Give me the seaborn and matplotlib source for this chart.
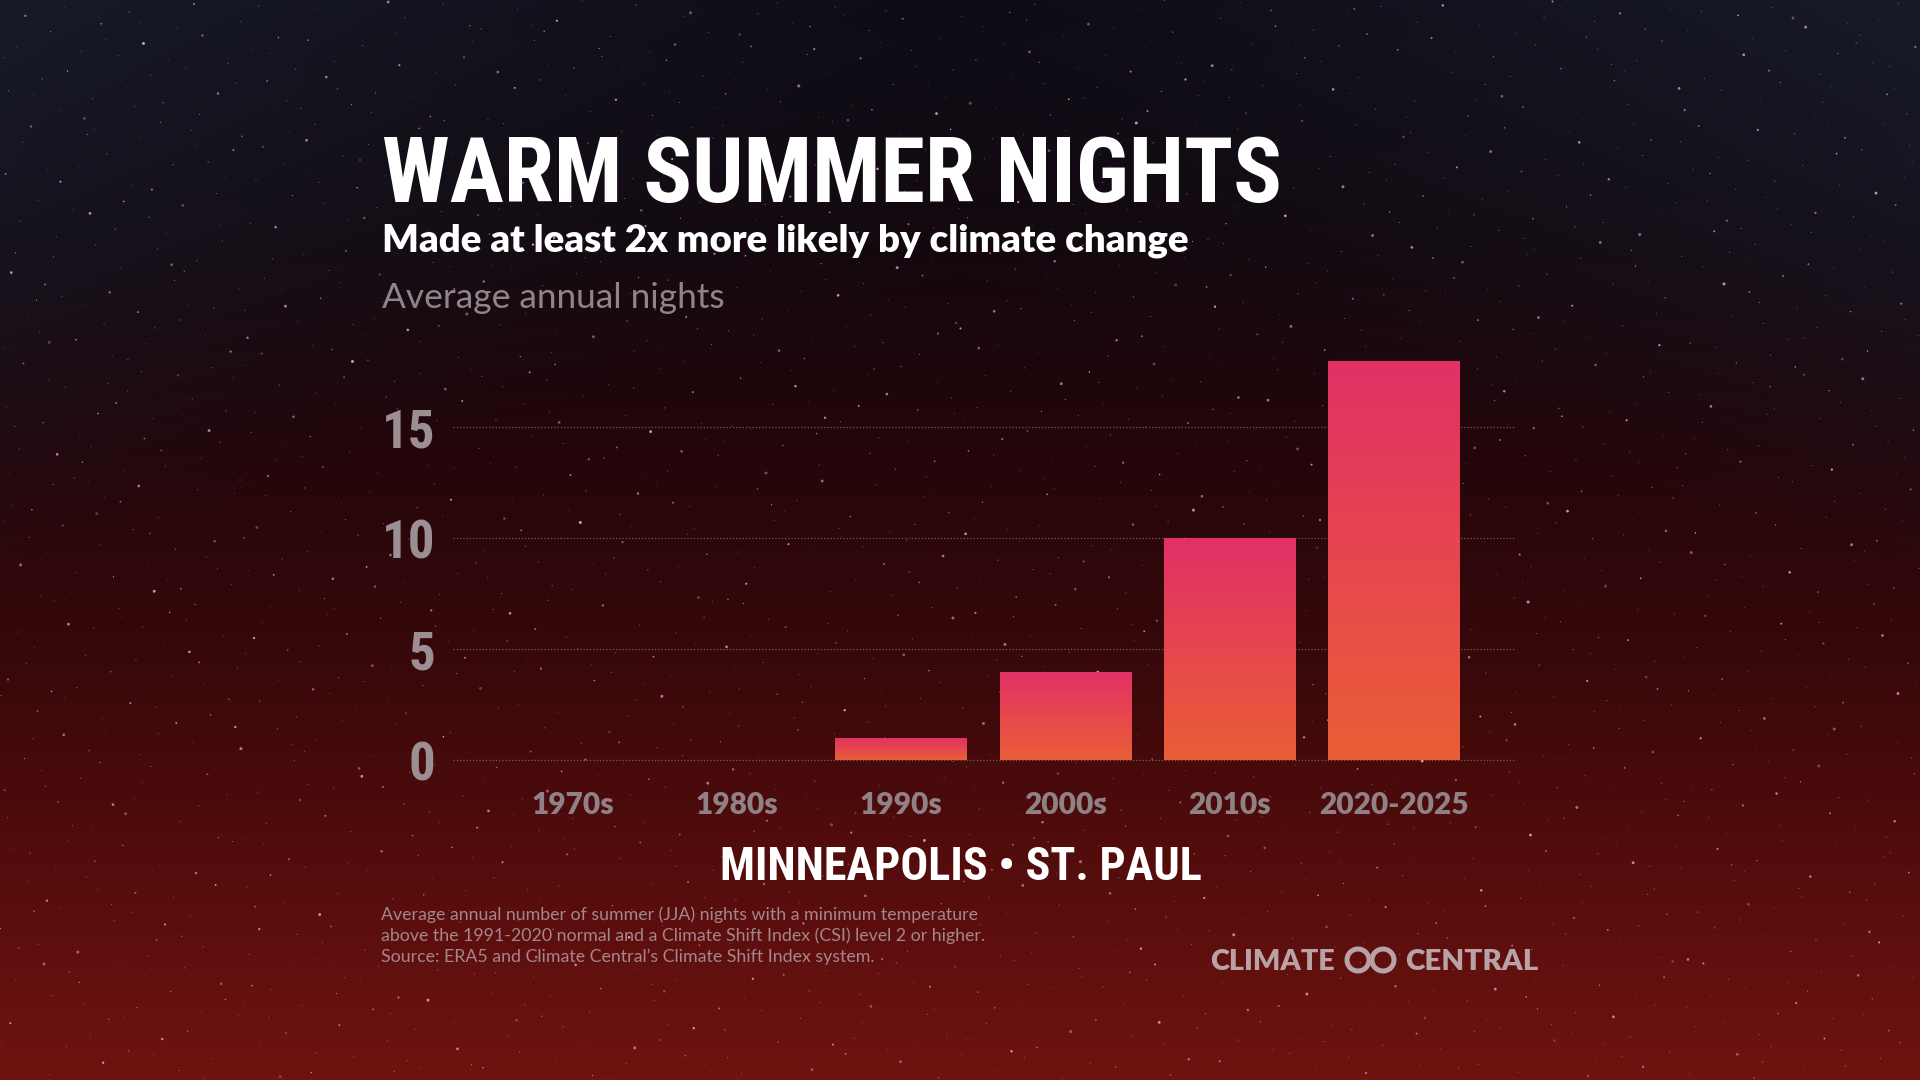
import numpy as np
import matplotlib
matplotlib.use("Agg")
import matplotlib.pyplot as plt
import seaborn as sns
import pandas as pd
from matplotlib import font_manager as fm
from matplotlib.font_manager import FontProperties
from matplotlib.patches import Circle

# ---------------- data ----------------
decades = ["1970s", "1980s", "1990s", "2000s", "2010s", "2020-2025"]
nights = [0, 0, 1, 4, 10, 18]
y_ticks = [0, 5, 10, 15]
y_tick_labels = ["0", "5", "10", "15"]

title = "WARM SUMMER NIGHTS"
subtitle = "Made at least 2x more likely by climate change"
unit_label = "Average annual nights"
city = "MINNEAPOLIS \u2022 ST. PAUL"
notes = [
    "Average annual number of summer (JJA) nights with a minimum temperature",
    "above the 1991-2020 normal and a Climate Shift Index (CSI) level 2 or higher.",
    "Source: ERA5 and Climate Central\u2019s Climate Shift Index system.",
]
logo_left = "CLIMATE"
logo_right = "CENTRAL"

# ---------------- fonts ----------------
sns.set_style("white")
entries = fm.fontManager.ttflist
names = {f.name for f in entries}


def has_condensed_dejavu():
    for f in entries:
        if f.name == "DejaVu Sans" and str(f.stretch) in ("condensed", "semi-condensed"):
            return True
    return False


if "Roboto Condensed" in names:
    COND = FontProperties(family="Roboto Condensed", weight="bold")
elif "Liberation Sans Narrow" in names:
    COND = FontProperties(family="Liberation Sans Narrow", weight="bold")
elif has_condensed_dejavu():
    COND = FontProperties(family="DejaVu Sans", stretch="condensed", weight="bold")
elif "Roboto" in names:
    COND = FontProperties(family="Roboto", weight="bold")
else:
    COND = FontProperties(family="DejaVu Sans", weight="bold")

SANS = "Lato" if "Lato" in names else ("Open Sans" if "Open Sans" in names else "DejaVu Sans")
plt.rcParams["font.family"] = [SANS, "DejaVu Sans"]

# ---------------- figure ----------------
W, H = 1920, 1080
fig = plt.figure(figsize=(19.2, 10.8), dpi=100)

# background (pixel coordinates)
ax_bg = fig.add_axes([0, 0, 1, 1], zorder=-10)
ax_bg.set_xlim(0, W)
ax_bg.set_ylim(H, 0)
ax_bg.axis("off")

gh, gw = 216, 384
yy = np.linspace(0, H, gh)[:, None] * np.ones((1, gw))
xx = np.ones((gh, 1)) * np.linspace(0, W, gw)[None, :]
stops_y = [0, 250, 450, 650, 850, 1080]
stops_c = np.array([(12, 11, 20), (20, 8, 14), (36, 6, 10), (54, 8, 10),
                    (82, 12, 12), (110, 20, 16)], dtype=float)
img = np.zeros((gh, gw, 3))
for c in range(3):
    img[..., c] = np.interp(yy, stops_y, stops_c[:, c])
dx = np.abs(xx - 960) / 960.0
wt = np.clip(1 - yy / (300 + 280 * dx), 0, 1) * (0.15 + 0.85 * dx ** 1.2)
blue = np.array([24, 26, 40], dtype=float)
img = img * (1 - wt[..., None]) + blue * wt[..., None]
ax_bg.imshow(img / 255.0, extent=[0, W, H, 0], aspect="auto", interpolation="bilinear")


# stars from a deterministic low-discrepancy sequence (decoration only)
def halton(n, b):
    out = np.zeros(n)
    for i in range(n):
        k, f, r = i + 1, 1.0, 0.0
        while k > 0:
            f /= b
            r += f * (k % b)
            k //= b
        out[i] = r
    return out


ns = 2400
sx = halton(ns, 2) * W
sy = halton(ns, 3) * H
sb = halton(ns, 5)
sz = halton(ns, 7)
ax_bg.scatter(sx, sy, s=0.4 + 4.5 * sz ** 6, c="#f0a2de", alpha=0.3 + 0.6 * sb,
              linewidths=0, zorder=2)

# ---------------- main axes ----------------
base_px = 760.4
unit_px = 22.2
ymin, ymax = -0.06, 19.0
ax_left, ax_right = 453, 1515
top_px = base_px - ymax * unit_px
bot_px = base_px - ymin * unit_px
ax = fig.add_axes([ax_left / W, 1 - bot_px / H, (ax_right - ax_left) / W, (bot_px - top_px) / H])
ax.set_facecolor("none")

df = pd.DataFrame({"decade": decades, "nights": nights})
sns.barplot(data=df, x="decade", y="nights", ax=ax, width=0.8, color="#e44a50",
            saturation=1, errorbar=None, zorder=3, linewidth=0, edgecolor="none")

# vertical gradient inside each bar
top_c = np.array([226, 48, 102]) / 255.0
bot_c = np.array([234, 94, 54]) / 255.0
t = np.linspace(0, 1, 128)[:, None]
grad = (top_c[None, :] * (1 - t) + bot_c[None, :] * t)[:, None, :]
for p in list(ax.patches):
    h = p.get_height()
    if h <= 0:
        continue
    x0, w = p.get_x(), p.get_width()
    im = ax.imshow(grad, extent=[x0, x0 + w, 0, h], aspect="auto", zorder=4,
                   interpolation="bilinear")
    im.set_clip_path(p)

ax.set_xlim(-0.73, 5.74)
ax.set_ylim(ymin, ymax)
ax.set_yticks(y_ticks)
ax.set_yticklabels(y_tick_labels)
ax.set_xlabel("")
ax.set_ylabel("")
ax.set_axisbelow(True)
ax.yaxis.grid(True, linestyle=(0, (1, 1.6)), color="#b09a9a", linewidth=0.9, alpha=0.55)
ax.xaxis.grid(False)
for s in ax.spines.values():
    s.set_visible(False)
ax.tick_params(axis="y", length=0, pad=13, labelcolor="#9c8f94")
ax.tick_params(axis="x", length=0, pad=21, labelcolor="#8f8186")
for lbl in ax.get_yticklabels():
    lbl.set_fontproperties(COND)
    lbl.set_fontsize(38)
for lbl in ax.get_xticklabels():
    lbl.set_fontfamily([SANS, "DejaVu Sans"])
    lbl.set_fontweight("heavy")
    lbl.set_fontsize(21.5)


# ---------------- texts ----------------
def fx(px):
    return px / W


def fy(py):
    return 1 - py / H


t_title = fig.text(fx(382), fy(202), title, color="white", fontproperties=COND,
                   fontsize=80, va="baseline", ha="left")
t_sub = fig.text(fx(382), fy(251), subtitle, color="white", fontweight="heavy",
                 fontsize=24, va="baseline", ha="left")
t_unit = fig.text(fx(382), fy(308), unit_label, color="#8e8489",
                  fontsize=22, va="baseline", ha="left")
t_city = fig.text(fx(961), fy(880), city, color="white", fontproperties=COND,
                  fontsize=40, va="baseline", ha="center")
t_notes = []
for i, (line, by) in enumerate(zip(notes, [920, 941, 962])):
    t_notes.append(fig.text(fx(381), fy(by), line, color="#a3878a", fontsize=11,
                            va="baseline", ha="left"))
t_logo1 = fig.text(fx(1210), fy(970), logo_left, color="#b8a2a6", fontweight="heavy",
                   fontsize=18, va="baseline", ha="left")
t_logo2 = fig.text(fx(1405), fy(970), logo_right, color="#b8a2a6", fontweight="heavy",
                   fontsize=18, va="baseline", ha="left")

# logo rings
for cx in (1358, 1383):
    ax_bg.add_patch(Circle((cx, 960), 11, fill=False, edgecolor="#b8a2a6",
                           linewidth=3.6, zorder=3))

fig.canvas.draw()
rend = fig.canvas.get_renderer()


def fit_width(txt, target):
    bb = txt.get_window_extent(rend)
    if bb.width > 0:
        txt.set_fontsize(txt.get_fontsize() * target / bb.width)


fit_width(t_title, 900)
fit_width(t_sub, 808)
fit_width(t_unit, 342)
fit_width(t_city, 480)
fit_width(t_notes[0], 596)
for tn in t_notes[1:]:
    tn.set_fontsize(t_notes[0].get_fontsize())
fit_width(t_logo1, 125)
fit_width(t_logo2, 133)

fig.savefig("out.png", dpi=100)
